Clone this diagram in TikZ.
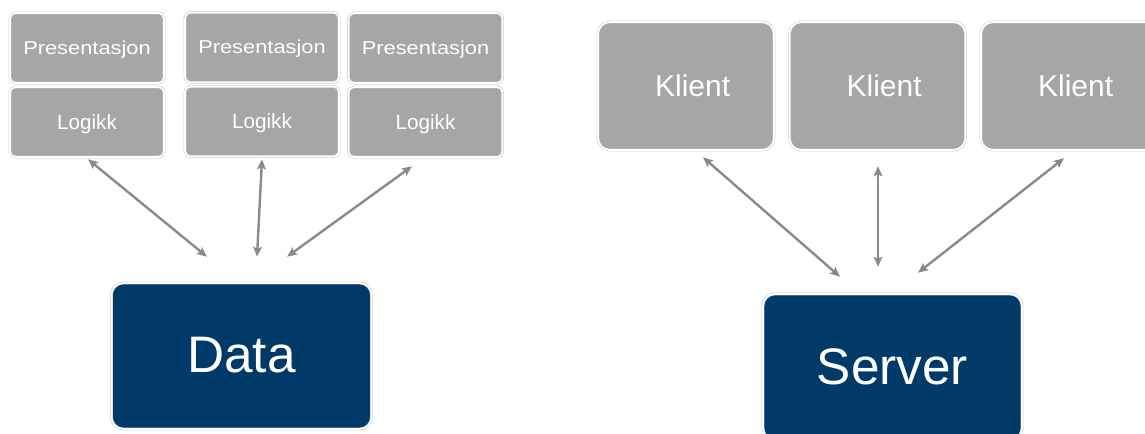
\documentclass[tikz,border=0pt]{standalone}
\usepackage{fontspec}
\setmainfont{Liberation Sans}
\usetikzlibrary{arrows.meta,calc}
\definecolor{boxgray}{HTML}{A6A6A6}
\definecolor{navy}{HTML}{003A68}
\definecolor{arrowgray}{HTML}{8A8A8A}
\definecolor{rimgray}{HTML}{CACACA}
\begin{document}
\begin{tikzpicture}[x=0.75pt,y=-0.75pt,
  box/.style={rectangle, rounded corners=#1, draw=rimgray, double=white,
    double distance=1.2pt, line width=0.4pt, inner sep=0pt, text=white,
    text depth=0pt},
  box/.default=4pt,
  layerbox/.style={box=4pt, fill=boxgray, minimum width=115.5pt, minimum height=52.5pt},
  presfont/.style={font=\fontsize{14}{16}\selectfont},
  logfont/.style={font=\fontsize{15.5}{18}\selectfont},
  clientbox/.style={box=9pt, fill=boxgray, minimum width=132pt, minimum height=96pt,
    font=\fontsize{22.5}{26}\selectfont},
  bigbox/.style={box=9pt, fill=navy, minimum width=195pt, minimum height=109.5pt,
    font=\fontsize{38.5}{44}\selectfont},
  link/.style={draw=arrowgray, line width=1.8pt,
    {Stealth[length=7.5pt,width=6.5pt,inset=1.5pt]}-{Stealth[length=7.5pt,width=6.5pt,inset=1.5pt]}}
]
\useasboundingbox (0,0) rectangle (1145,433);
\clip (0,0) rectangle (1145,433);
\fill[white] (0,0) rectangle (1145,433);

% left: three tiers
\node[layerbox, presfont] (p1) at (87,48) {\scalebox{1.17}[1]{Presentasjon}};
\node[layerbox, logfont]  (l1) at (87,122) {Logikk};
\node[layerbox, presfont] (p2) at (262,47.5) {\raisebox{1pt}{\scalebox{1.17}[1]{Presentasjon}}};
\node[layerbox, logfont]  (l2) at (262,121.5) {Logikk};
\node[layerbox, presfont] (p3) at (425.5,48) {\scalebox{1.17}[1]{Presentasjon}};
\node[layerbox, logfont]  (l3) at (425.5,122) {Logikk};
\node[bigbox] (data) at (241.5,356) {\raisebox{2pt}{Data}};

% right: clients
\node[clientbox] (k1) at (686,86) {\hspace*{10pt}Klient};
\node[clientbox] (k2) at (877.5,86) {\hspace*{10pt}Klient};
\node[clientbox] (k3) at (1069,86) {\hspace*{10pt}Klient};
\node[bigbox, minimum width=194.25pt] (server) at (892.5,367) {Server};

% connector ends
\coordinate (a1s) at ($(l1.south)+(1,2)$);
\coordinate (a1e) at ($(data.north)+(-34.5,-26)$);
\coordinate (a2s) at ($(l2.south)+(0,2.5)$);
\coordinate (a2e) at ($(data.north)+(15.5,-26)$);
\coordinate (a3s) at ($(l3.south)+(-13.5,9)$);
\coordinate (a3e) at ($(data.north)+(45.5,-26)$);
\coordinate (b1s) at ($(k1.south)+(17,7)$);
\coordinate (b1e) at ($(server.north)+(-52.5,-17)$);
\coordinate (b2s) at ($(k2.south)+(0.5,16)$);
\coordinate (b2e) at ($(server.north)+(-14.5,-27)$);
\coordinate (b3s) at ($(k3.south)+(-5,8)$);
\coordinate (b3e) at ($(server.north)+(25.5,-21)$);

\draw[link] (a1s) -- (a1e);
\draw[link] (a2s) -- (a2e);
\draw[link] (a3s) -- (a3e);
\draw[link] (b1s) -- (b1e);
\draw[link] (b2s) -- (b2e);
\draw[link] (b3s) -- (b3e);
\end{tikzpicture}
\end{document}
